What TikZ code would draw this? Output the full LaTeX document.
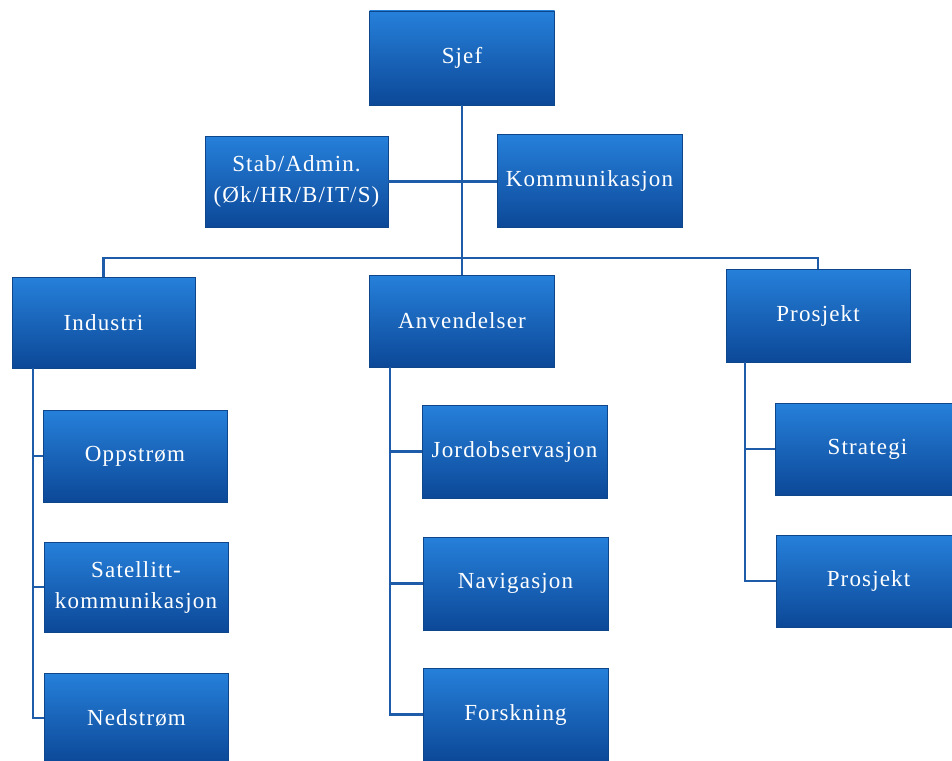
\documentclass[tikz,border=0pt]{standalone}
\usepackage{fontspec}
\newfontfamily\boxfont{Liberation Serif}[LetterSpace=5]
\definecolor{boxtop}{RGB}{38,128,218}
\definecolor{boxmid}{RGB}{24,104,196}
\definecolor{boxbot}{RGB}{12,72,152}
\definecolor{boxedge}{RGB}{14,70,140}
\definecolor{linkcol}{RGB}{30,92,170}
\tikzset{
  orgbox/.style={draw=boxedge, line width=0.8pt, top color=boxtop, middle color=boxmid, bottom color=boxbot,
    text=white, align=center, font=\boxfont\fontsize{23}{31}\selectfont,
    minimum width=185pt, minimum height=93pt, inner sep=0pt},
  link/.style={draw=linkcol, line width=2.8pt}
}
\begin{document}
\begin{tikzpicture}[x=1pt,y=-1pt]
\useasboundingbox (0,0) rectangle (952,760);
\fill[white] (0,0) rectangle (952,760);
\clip (0,0) rectangle (952,760);
\coordinate (bus) at (462,258);
\node[orgbox, minimum height=94pt] (sjef) at (462,58) {Sjef};
\node[orgbox, minimum width=183pt, minimum height=91pt] (stab) at (296.5,181.5) {Stab/Admin.\\(Øk/HR/B/IT/S)};
\node[orgbox] (komm) at (589.5,181) {Kommunikasjon};
\node[orgbox, minimum width=183pt, minimum height=91pt] (ind) at (103.5,322.5) {Industri};
\node[orgbox, minimum height=92pt] (anv) at (462,321) {Anvendelser};
\node[orgbox, minimum width=184pt] (pro) at (818,315.5) {Prosjekt};
\node[orgbox, minimum width=184pt, minimum height=92pt] (opp) at (135,456) {Oppstrøm};
\node[orgbox, minimum width=184pt, minimum height=90pt] (sat) at (136,587) {Satellitt-\\kommunikasjon};
\node[orgbox, minimum width=184pt, minimum height=90pt] (ned) at (136.5,718) {Nedstrøm};
\node[orgbox] (jord) at (514.5,451.5) {Jordobservasjon};
\node[orgbox] (nav) at (515.5,583.5) {Navigasjon};
\node[orgbox] (fors) at (515.5,714.5) {Forskning};
\node[orgbox, minimum height=92pt] (strat) at (867.5,449) {Strategi};
\node[orgbox, minimum height=92pt] (pro2) at (868.5,581) {Prosjekt};
% connectors
\coordinate (indsp) at (33,368);
\coordinate (anvsp) at (390,367);
\coordinate (prosp) at (745,362);
\draw[link] (sjef.south) -- (anv.north);
\draw[link] (stab.east) -- (stab.east -| komm.west);
\draw[link] (ind.north) |- (bus) -| (pro.north);
\draw[link] (indsp) |- (ned.west);
\draw[link] (indsp |- opp.west) -- (opp.west);
\draw[link] (indsp |- sat.west) -- (sat.west);
\draw[link] (anvsp) |- (fors.west);
\draw[link] (anvsp |- jord.west) -- (jord.west);
\draw[link] (anvsp |- nav.west) -- (nav.west);
\draw[link] (prosp) |- (pro2.west);
\draw[link] (prosp |- strat.west) -- (strat.west);
\end{tikzpicture}
\end{document}
